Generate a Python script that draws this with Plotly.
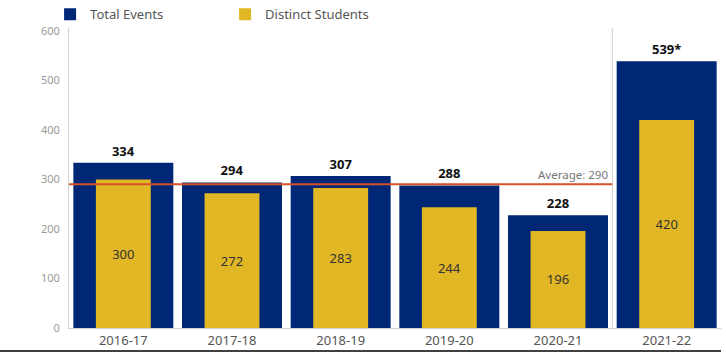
import plotly.graph_objects as go

years = ["2016-17", "2017-18", "2018-19", "2019-20", "2020-21", "2021-22"]
total_events = [334, 294, 307, 288, 228, 539]
distinct_students = [300, 272, 283, 244, 196, 420]
footnote_marks = ["", "", "", "", "", "*"]
y_ticks = [0, 100, 200, 300, 400, 500, 600]

NAVY = "#002776"
GOLD = "#E1B726"
AVG_COLOR = "#D4512A"
FONT = "Noto Sans"

# Average over the completed years (before the separated pane)
avg_years = years[:5]
avg_value = sum(total_events[:5]) / len(total_events[:5])

fig = go.Figure()
fig.add_trace(go.Bar(
    x=years, y=total_events, name="Total Events",
    marker=dict(color=NAVY, line=dict(width=0)), width=0.92,
    text=[f"{v}{m}" for v, m in zip(total_events, footnote_marks)],
    textposition="outside", cliponaxis=False,
    textfont=dict(family=FONT, size=13, color="#111111", weight="bold"),
    hoverinfo="skip",
))
fig.add_trace(go.Bar(
    x=years, y=distinct_students, name="Distinct Students",
    marker=dict(color=GOLD, line=dict(width=0)), width=0.505,
    text=[str(v) for v in distinct_students],
    textposition="inside", insidetextanchor="middle",
    textfont=dict(family=FONT, size=13, color="#333333"),
    hoverinfo="skip",
))

# average reference line across the first pane
fig.add_shape(type="line", xref="x", yref="y",
              x0=-0.5, x1=len(avg_years) - 0.5, y0=avg_value, y1=avg_value,
              line=dict(color=AVG_COLOR, width=2), layer="above")
fig.add_annotation(x=len(avg_years) - 0.5, y=avg_value, xref="x", yref="y",
                   text=f"Average: {round(avg_value)}", showarrow=False,
                   xanchor="right", yanchor="bottom", xshift=-2, yshift=0,
                   font=dict(family=FONT, size=11.5, color="#777777"))

# pane separator
fig.add_shape(type="line", xref="x", yref="paper",
              x0=len(avg_years) - 0.5, x1=len(avg_years) - 0.5, y0=0, y1=1,
              line=dict(color="#D0D0D0", width=1), layer="below")
# bottom rule
fig.add_shape(type="line", xref="paper", yref="paper",
              x0=-0.106, x1=1.0, y0=-0.077, y1=-0.077,
              line=dict(color="#000000", width=1.5))

fig.update_layout(
    width=726, height=355,
    margin=dict(l=69, r=5, t=28, b=27, autoexpand=False),
    paper_bgcolor="white", plot_bgcolor="white",
    barmode="overlay",
    font=dict(family=FONT, color="#555555"),
    showlegend=True,
    legend=dict(orientation="h", x=-0.029, xanchor="left", y=1.096, yanchor="top",
                entrywidth=130, entrywidthmode="pixels",
                font=dict(family=FONT, size=13, color="#555555"),
                bgcolor="rgba(0,0,0,0)", borderwidth=0),
    xaxis=dict(type="category", categoryorder="array", categoryarray=years,
               range=[-0.5, len(years) - 0.5],
               showgrid=False, showline=True, linecolor="#C9D1DA", linewidth=1,
               ticks="", tickfont=dict(family=FONT, size=13, color="#555555")),
    yaxis=dict(range=[0, 606], tickvals=y_ticks, showgrid=False, zeroline=False,
               showline=True, linecolor="#D3D3D3", linewidth=1, ticks="",
               ticklabelstandoff=6,
               tickfont=dict(family=FONT, size=11, color="#9A9A9A")),
)

fig.write_html("out.html", config={"displayModeBar": False},
               post_script="document.body.style.margin='0';document.body.style.overflow='hidden';")
